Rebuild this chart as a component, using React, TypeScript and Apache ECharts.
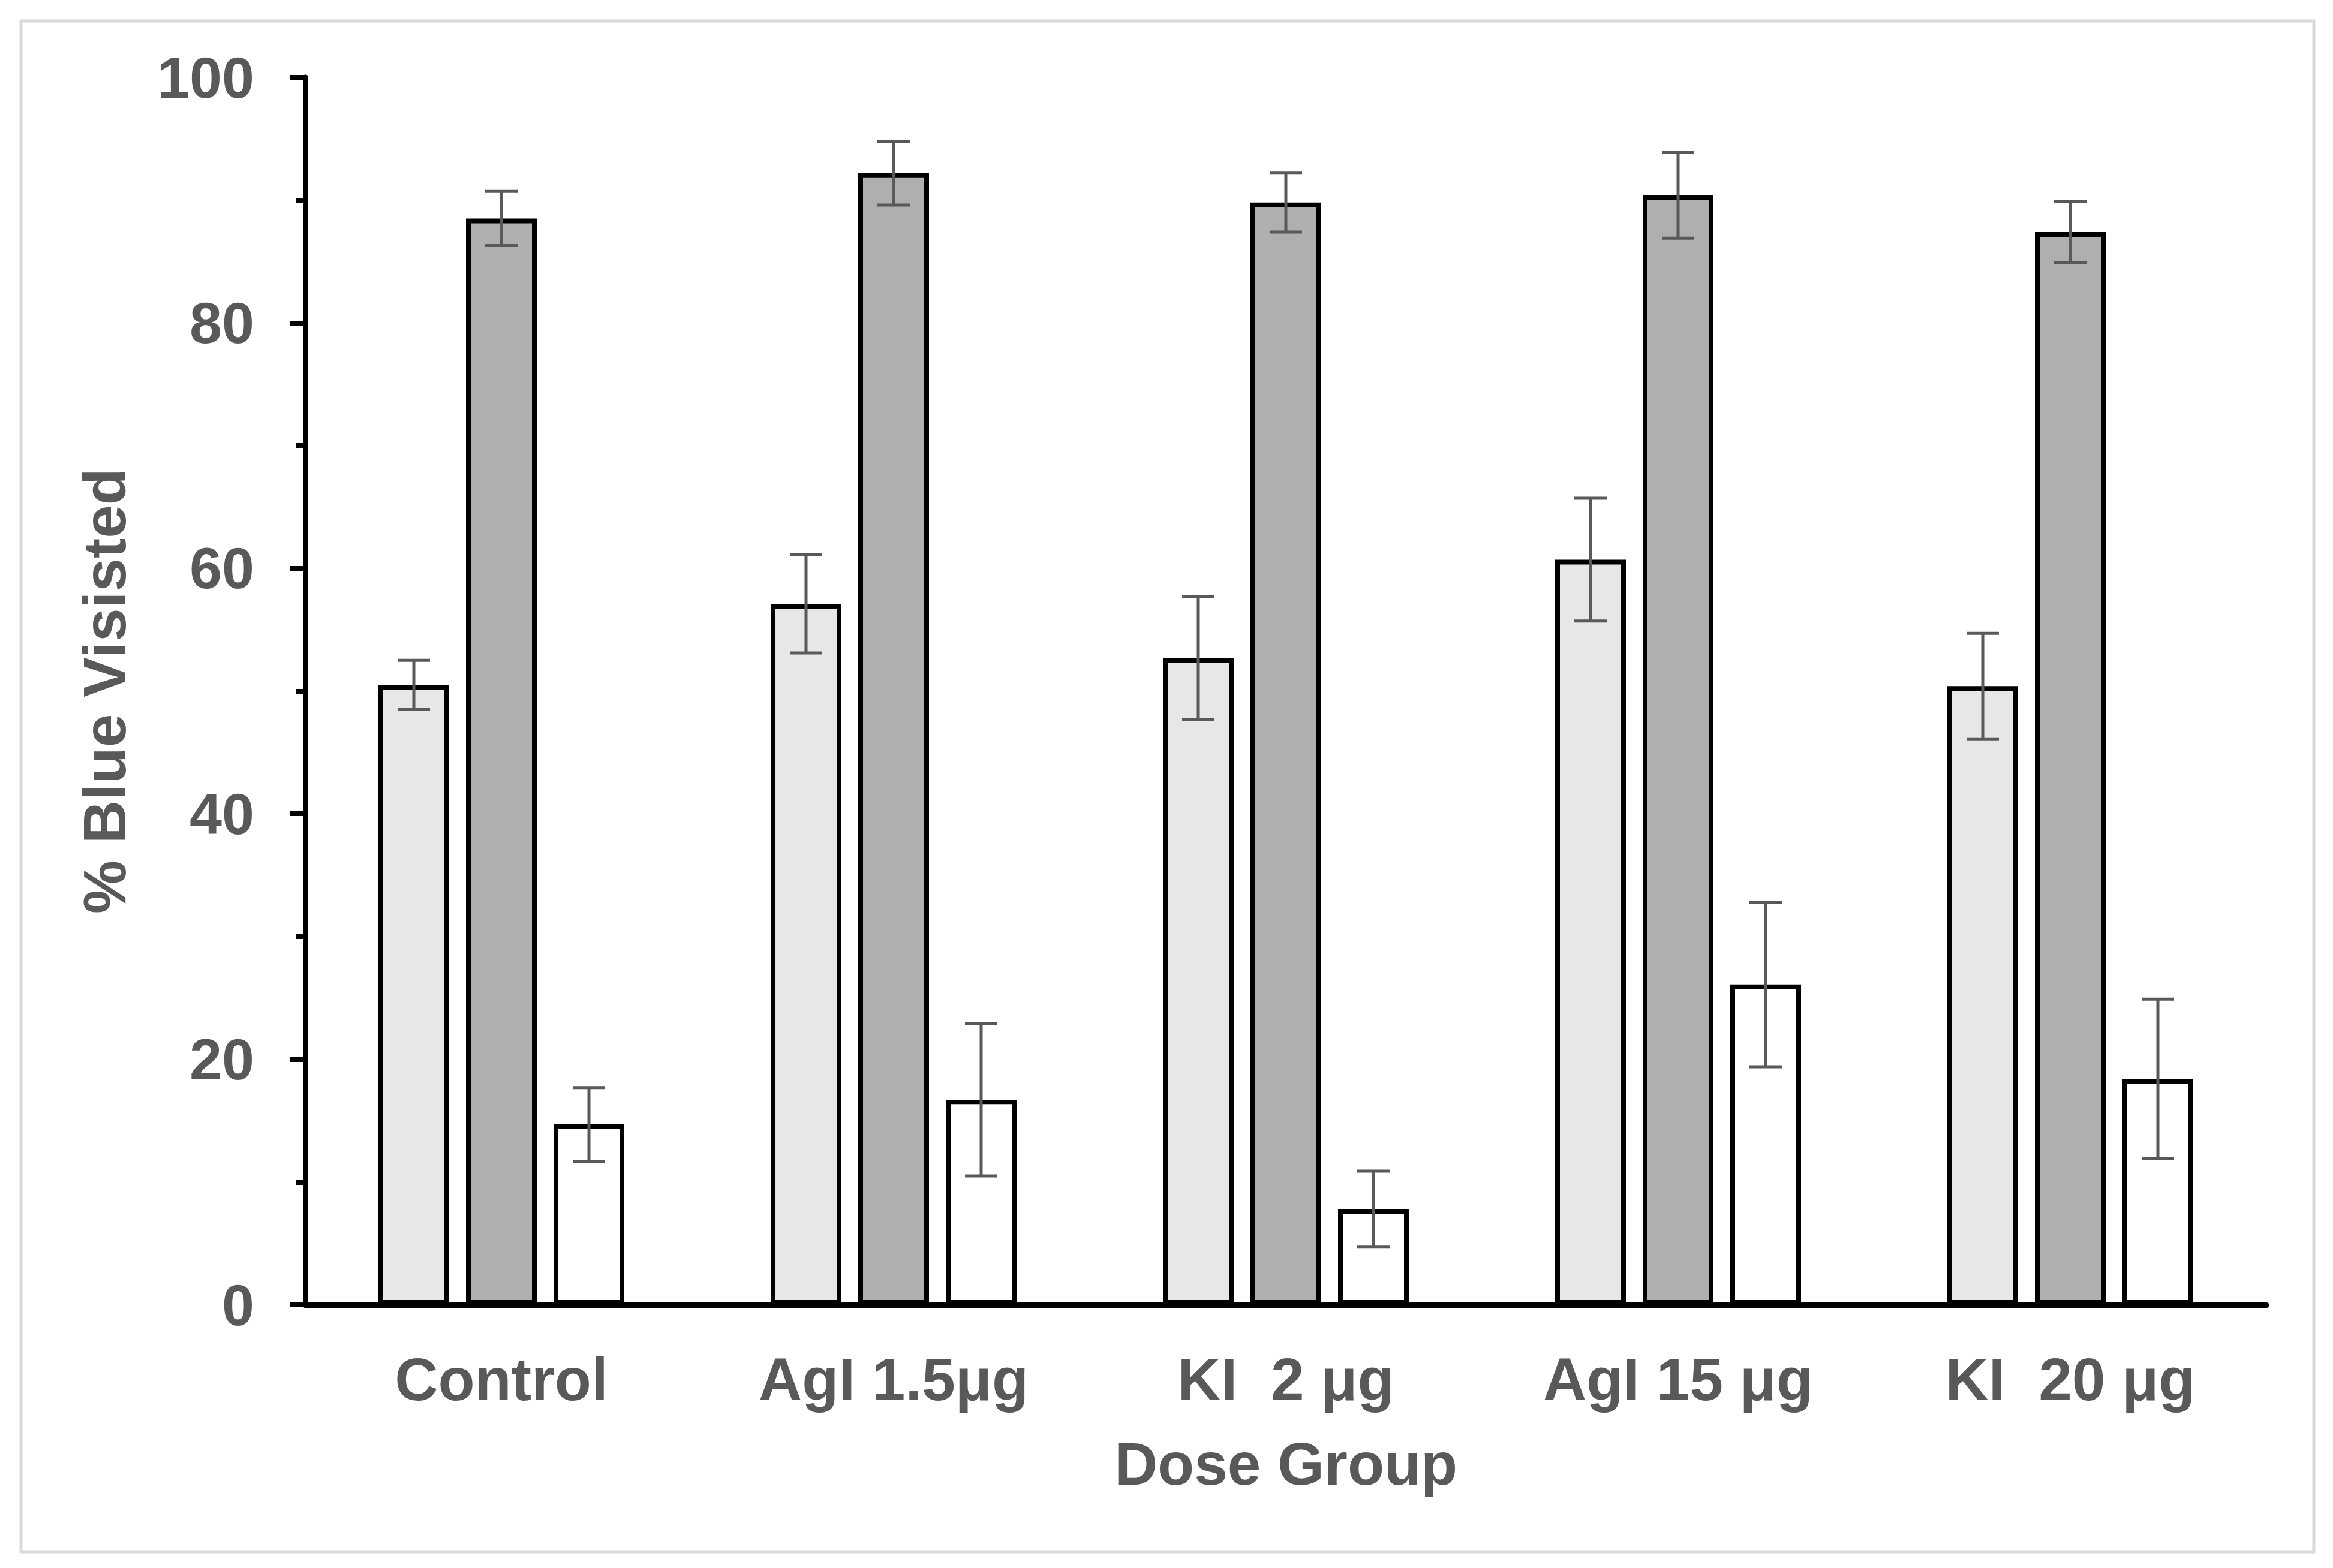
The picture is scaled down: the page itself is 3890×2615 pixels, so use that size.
import React, { useEffect, useRef } from "react";
import * as echarts from "echarts";

const categories = ["Control", "AgI 1.5μg", "KI  2 μg", "AgI 15 μg", "KI  20 μg"];
const lightValues = [50.5, 57.1, 52.7, 60.7, 50.4];
const lightErrors = [2.0, 4.0, 5.0, 5.0, 4.3];
const darkValues = [88.5, 92.2, 89.8, 90.4, 87.4];
const darkErrors = [2.2, 2.6, 2.4, 3.5, 2.5];
const whiteValues = [14.7, 16.7, 7.8, 26.1, 18.4];
const whiteErrors = [3.0, 6.2, 3.1, 6.7, 6.5];
const yMin = 0;
const yMax = 100;
const yInterval = 20;

const BAR_W = 118;
const BAR_GAP = 28;
const CAP = 27;
const TEXT = "#595959";
const FONT = "'Liberation Sans', Arial, sans-serif";

function makeBar(name: string, values: number[], color: string) {
  return {
    name,
    type: "bar",
    data: values,
    barWidth: BAR_W,
    barGap: (BAR_GAP / BAR_W) * 100 + "%",
    itemStyle: { color, borderColor: "#000", borderWidth: 8 },
    z: 2,
  };
}

function makeErr(values: number[], errors: number[], offsetIdx: number) {
  return {
    type: "custom",
    silent: true,
    z: 10,
    encode: { x: 0, y: [1, 2] },
    data: values.map((v, i) => [i, v - errors[i], v + errors[i]]),
    renderItem: (params: any, api: any) => {
      const lo = api.coord([api.value(0), api.value(1)]);
      const hi = api.coord([api.value(0), api.value(2)]);
      const x = lo[0] + offsetIdx * (BAR_W + BAR_GAP);
      const style = { stroke: TEXT, lineWidth: 5 };
      return {
        type: "group",
        children: [
          { type: "line", shape: { x1: x, y1: hi[1], x2: x, y2: lo[1] }, style },
          { type: "line", shape: { x1: x - CAP, y1: hi[1], x2: x + CAP, y2: hi[1] }, style },
          { type: "line", shape: { x1: x - CAP, y1: lo[1], x2: x + CAP, y2: lo[1] }, style },
        ],
      };
    },
  };
}

export default function App() {
  const ref = useRef<HTMLDivElement>(null);
  useEffect(() => {
    if (!ref.current) return;
    const chart = echarts.init(ref.current, undefined, { renderer: "svg" });
    chart.setOption({
      animation: false,
      backgroundColor: "#ffffff",
      textStyle: { fontFamily: FONT },
      graphic: [
        {
          type: "rect",
          shape: { x: 35, y: 35, width: 3823, height: 2553 },
          style: { fill: "none", stroke: "#d9d9d9", lineWidth: 5 },
          silent: true,
        },
      ],
      grid: { left: 509, right: 111, top: 129, bottom: 439 },
      xAxis: {
        type: "category",
        data: categories,
        name: "Dose Group",
        nameLocation: "middle",
        nameGap: 215,
        nameTextStyle: { color: TEXT, fontSize: 100, fontWeight: "bold", fontFamily: FONT },
        axisLine: { show: true, lineStyle: { color: "#000", width: 9 } },
        axisTick: { show: false },
        axisLabel: { color: TEXT, fontSize: 100, fontWeight: "bold", margin: 74, fontFamily: FONT },
        splitLine: { show: false },
        z: 5,
      },
      yAxis: {
        type: "value",
        min: yMin,
        max: yMax,
        interval: yInterval,
        name: "% Blue Visisted",
        nameLocation: "middle",
        nameGap: 285,
        nameTextStyle: { color: TEXT, fontSize: 100, fontWeight: "bold", fontFamily: FONT },
        axisLine: { show: true, lineStyle: { color: "#000", width: 9 } },
        axisTick: { show: true, inside: false, length: 25, lineStyle: { color: "#000", width: 8 } },
        minorTick: { show: true, splitNumber: 2, length: 15, lineStyle: { color: "#000", width: 8 } },
        axisLabel: { color: TEXT, fontSize: 97, fontWeight: "bold", margin: 85, fontFamily: FONT },
        splitLine: { show: false },
      },
      series: [
        makeBar("Light", lightValues, "#e7e7e7"),
        makeBar("Dark", darkValues, "#afafaf"),
        makeBar("White", whiteValues, "#ffffff"),
        makeErr(lightValues, lightErrors, -1),
        makeErr(darkValues, darkErrors, 0),
        makeErr(whiteValues, whiteErrors, 1),
      ],
    });
    return () => chart.dispose();
  }, []);
  return (
    <div
      ref={ref}
      style={{ position: "fixed", left: 0, top: 0, width: 3890, height: 2615, background: "#fff" }}
    />
  );
}
